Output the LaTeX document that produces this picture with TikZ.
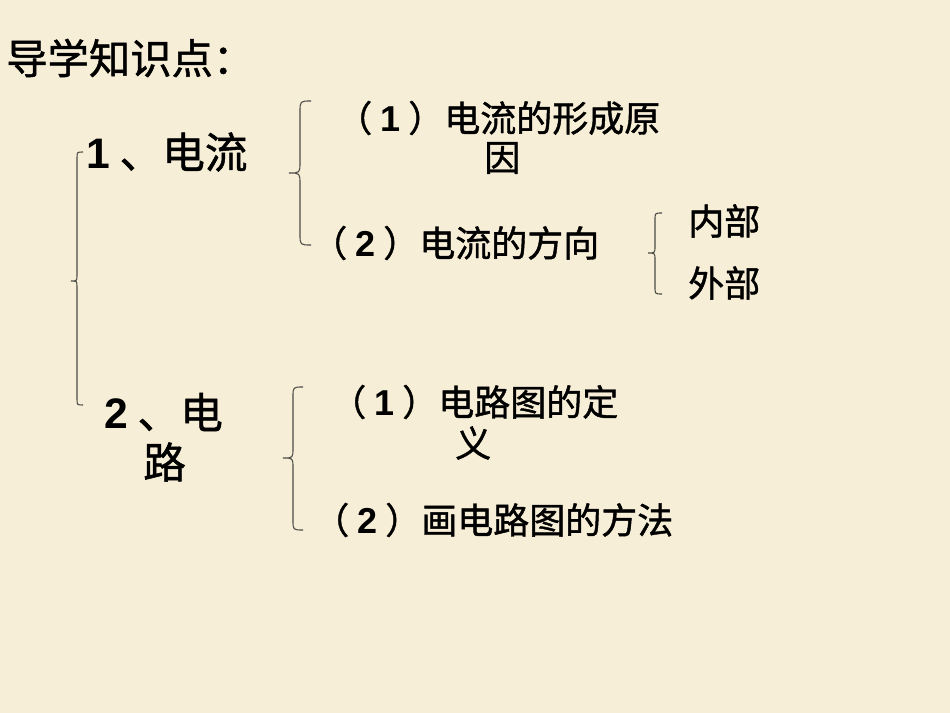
\documentclass[tikz,border=0pt]{standalone}
\usepackage{fontspec}
\newfontfamily\cjk{Noto Sans CJK SC}[FakeBold=1.2]
\newfontfamily\dig{Liberation Sans}
\definecolor{bg}{HTML}{F7EED7}
\definecolor{brc}{HTML}{4A4A44}
\newcommand{\kbrace}[5]{%
  \draw[bracestyle] (#1+#5,#2) .. controls (#1,#2) .. (#1,#2+#5)
    -- (#1,#3-#5) .. controls (#1,#3) .. (#1-#5,#3)
    .. controls (#1,#3) .. (#1,#3+#5)
    -- (#1,#4-#5) .. controls (#1,#4) .. (#1+#5,#4);}
\newcommand{\pnum}[1]{（\hspace{6pt}{\dig\bfseries #1}\hspace{6pt}）}
\begin{document}
\begin{tikzpicture}[x=0.75pt,y=-0.75pt,
  bracestyle/.style={draw=brc,line width=0.8pt},
  title/.style={anchor=west,inner sep=0pt,font=\cjk\fontsize{31}{33}\selectfont},
  mainlbl/.style={anchor=west,inner sep=0pt,font=\cjk\fontsize{32}{34}\selectfont},
  item/.style={anchor=west,inner sep=0pt,font=\cjk\fontsize{27}{29}\selectfont}]
\fill[bg] (0,0) rectangle (950,713);
\useasboundingbox (0,0) rectangle (950,713);
\node[title] (t) at (6,58) {导学知识点：};
\node[mainlbl] (a1) at (86,152) {{\dig\bfseries 1} 、电流};
\node[mainlbl] (a2) at (104,412) {{\dig\bfseries 2} 、电};
\node[mainlbl] (a2b) at (143,462) {路};
\node[item] (b1) at (336,118) {\pnum{1}电流的形成原};
\node[item] (b1b) at (484,158) {因};
\node[item] (b2) at (311,243) {\pnum{2}电流的方向};
\node[item] (c1) at (688,221) {内部};
\node[item] (c2) at (688,283) {外部};
\node[item] (d1) at (330,402) {\pnum{1}电路图的定};
\node[item] (d1b) at (455,443) {义};
\node[item] (d2) at (313,520) {\pnum{2}画电路图的方法};
\kbrace{77}{152}{281}{405}{6}
\kbrace{300}{101}{173}{245}{11}
\kbrace{655}{213}{253}{294}{7}
\kbrace{293}{387}{458}{530}{10}
\end{tikzpicture}
\end{document}
